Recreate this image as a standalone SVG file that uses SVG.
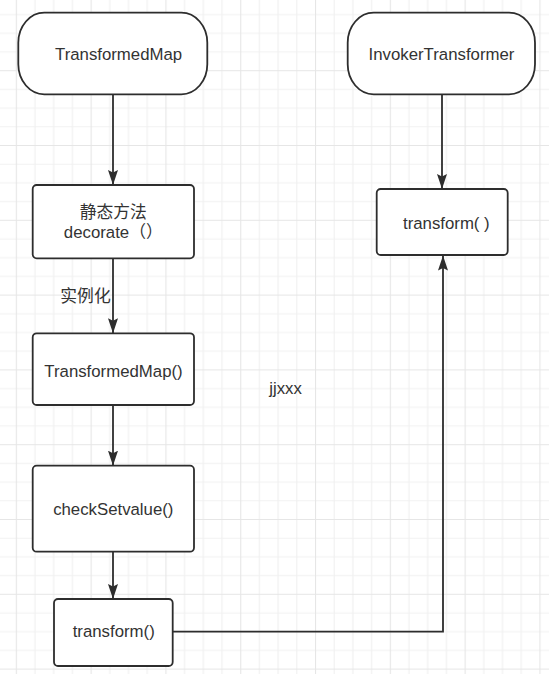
<svg xmlns="http://www.w3.org/2000/svg" width="549" height="674" viewBox="0 0 549 674">
  <style>
    .box { fill: #ffffff; stroke: #2d2d2d; stroke-width: 1.8; }
    .edge { fill: none; stroke: #2d2d2d; stroke-width: 1.8; }
    .label { font-family: "Liberation Sans", "Noto Sans CJK SC", sans-serif; font-size: 16.8px; fill: #333333; }
    .mid { text-anchor: middle; dominant-baseline: central; }
  </style>
  <defs>
    <!-- background grid: fine lines every 18.7 px, heavier every 4th -->
    <pattern id="grid" x="15.8" y="-4.6" width="74.8" height="74.8" patternUnits="userSpaceOnUse">
      <path d="M0 19.2H74.8M0 37.9H74.8M0 56.6H74.8M19.2 0V74.8M37.9 0V74.8M56.6 0V74.8" stroke="#f1f1f1" stroke-width="1.2" fill="none"/>
      <path d="M0 0.5H74.8M0.5 0V74.8" stroke="#e6e6e6" stroke-width="1.2" fill="none"/>
    </pattern>
    <marker id="arrow" viewBox="0 0 15 10" refX="15" refY="5" markerWidth="15" markerHeight="10" markerUnits="userSpaceOnUse" orient="auto">
      <path d="M0,0 L15,5 L0,10 L2.5,5 Z" fill="#2d2d2d"/>
    </marker>
  </defs>

  <rect width="549" height="674" fill="#ffffff"/>
  <rect width="549" height="674" fill="url(#grid)"/>

  <g id="connectors">
    <path class="edge" d="M113 94.3V185" marker-end="url(#arrow)"/>
    <path class="edge" d="M113 258.3V333.3" marker-end="url(#arrow)"/>
    <path class="edge" d="M113 405V465.7" marker-end="url(#arrow)"/>
    <path class="edge" d="M113 551.7V599" marker-end="url(#arrow)"/>
    <path class="edge" d="M442 94.3V189" marker-end="url(#arrow)"/>
    <path class="edge" d="M172.7 631.7H443V255.5" marker-end="url(#arrow)"/>
    <text class="label mid" x="85.5" y="296.7">实例化</text>
  </g>

  <g id="transformedmap">
    <rect class="box" x="18.3" y="12.7" width="189" height="81.6" rx="26" ry="30"/>
    <text class="label mid" x="118.6" y="54.3">TransformedMap</text>
  </g>

  <g id="invokertransformer">
    <rect class="box" x="347.7" y="12.7" width="187.3" height="81.6" rx="26" ry="30"/>
    <text class="label mid" x="441.5" y="54.3">InvokerTransformer</text>
  </g>

  <g id="decorate">
    <rect class="box" x="32.7" y="185" width="161.3" height="73.3" rx="4"/>
    <text class="label mid" x="113.3" y="212.7">静态方法</text>
    <text class="label mid" x="113.3" y="232.7">decorate（）</text>
  </g>

  <g id="invoker-transform">
    <rect class="box" x="376.7" y="189" width="131" height="66" rx="4"/>
    <text class="label" x="403" y="223.3" dominant-baseline="central">transform( )</text>
  </g>

  <g id="transformedmap-ctor">
    <rect class="box" x="32.7" y="333.3" width="161.3" height="71.7" rx="4"/>
    <text class="label mid" x="113.5" y="371.7">TransformedMap()</text>
  </g>

  <g id="checksetvalue">
    <rect class="box" x="32.7" y="465.7" width="161.3" height="86" rx="4"/>
    <text class="label mid" x="113.3" y="509.3">checkSetvalue()</text>
  </g>

  <g id="map-transform">
    <rect class="box" x="54" y="599" width="118.7" height="67" rx="4"/>
    <text class="label mid" x="113.7" y="631.7">transform()</text>
  </g>

  <g id="note">
    <text class="label mid" x="285.5" y="388.3">jjxxx</text>
  </g>
</svg>
